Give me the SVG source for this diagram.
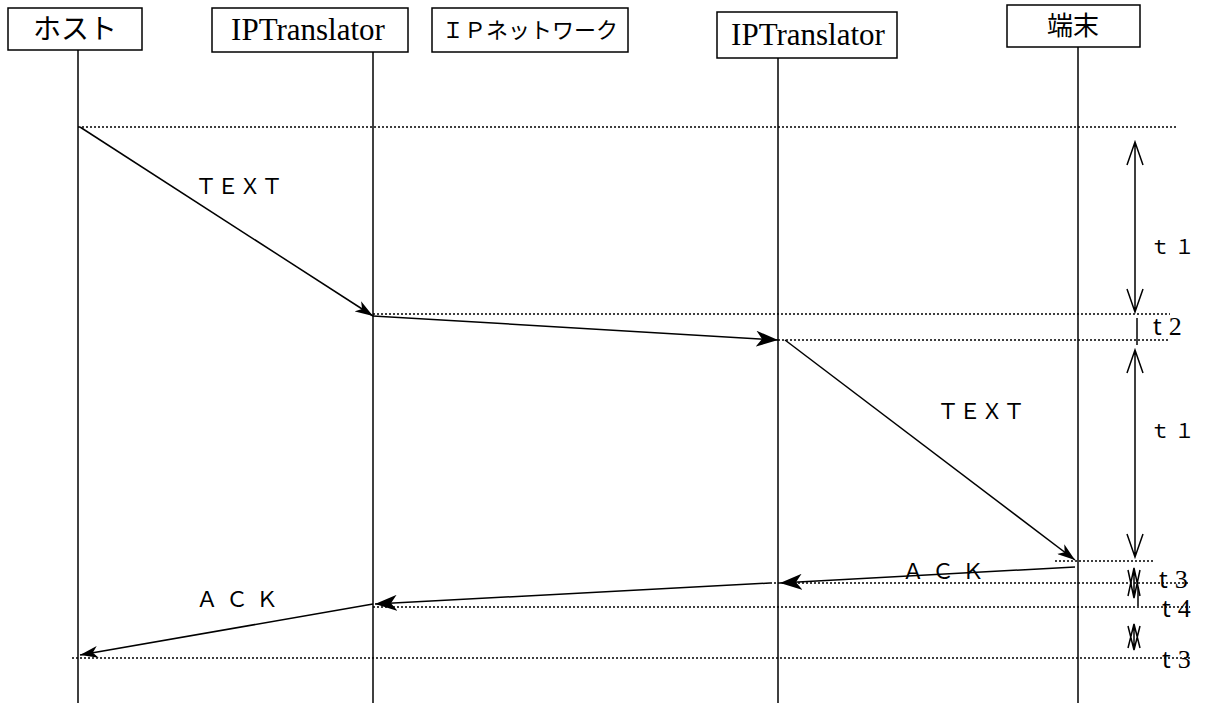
<svg xmlns="http://www.w3.org/2000/svg" width="1212" height="708" viewBox="0 0 1212 708">
<style>
.box{fill:#fff;stroke:#000;stroke-width:1.5}
.life{stroke:#000;stroke-width:1.5}
.dot{stroke:#000;stroke-width:1.3;stroke-dasharray:2 2;fill:none}
.msg{stroke:#000;stroke-width:1.5;fill:none}
.jp{font-family:"Noto Sans CJK JP","Noto Sans",sans-serif;fill:#000}
.se{font-family:"Liberation Serif",serif;fill:#000}
.tk{stroke:#000;stroke-width:1.5;fill:none}
.tl{font-size:24px;fill:#000}
.tt{font-family:"Noto Sans",sans-serif}
.td{font-family:"Liberation Serif",serif;font-size:26px}
</style>
<defs>
<marker id="ah" markerWidth="24" markerHeight="16" refX="22" refY="8" orient="auto" markerUnits="userSpaceOnUse">
<path d="M0,0 L22,8 L0,16 L6,8 Z" fill="#000"/>
</marker>
<marker id="ahs" markerWidth="20" markerHeight="12" refX="18" refY="6" orient="auto" markerUnits="userSpaceOnUse">
<path d="M0,0 L18,6 L0,12 L5,6 Z" fill="#000"/>
</marker>
</defs>
<rect width="1212" height="708" fill="#fff"/>
<g id="host"><rect class="box" x="8" y="8" width="134" height="42"/><text class="jp" x="75" y="39" font-size="28" text-anchor="middle">ホスト</text><line class="life" x1="78" y1="50" x2="78" y2="703"/></g>
<g id="ipt1"><rect class="box" x="212" y="8" width="196" height="44"/><text class="se" x="308" y="40" font-size="31" text-anchor="middle">IPTranslator</text><line class="life" x1="373" y1="52" x2="373" y2="703"/></g>
<g id="ipnet"><rect class="box" x="432" y="8" width="196" height="44"/><text class="jp" x="530" y="38" font-size="22" text-anchor="middle">ＩＰネットワーク</text></g>
<g id="ipt2"><rect class="box" x="717" y="12" width="180" height="46"/><text class="se" x="808" y="45" font-size="31" text-anchor="middle">IPTranslator</text><line class="life" x1="778" y1="58" x2="778" y2="703"/></g>
<g id="term"><rect class="box" x="1007" y="5" width="133" height="42"/><text class="jp" x="1073" y="35" font-size="26" text-anchor="middle">端末</text><line class="life" x1="1078" y1="47" x2="1078" y2="703"/></g>
<g id="guides">
<line class="dot" x1="78" y1="127" x2="1176" y2="127"/>
<line class="dot" x1="373" y1="314" x2="1170" y2="314"/>
<line class="dot" x1="778" y1="340" x2="1170" y2="340"/>
<line class="dot" x1="1055" y1="561" x2="1155" y2="561"/>
<line class="dot" x1="770" y1="583" x2="1190" y2="583"/>
<line class="dot" x1="373" y1="607" x2="1190" y2="607"/>
<line class="dot" x1="72" y1="658" x2="1190" y2="658"/>
</g>
<g id="connectors">
<line class="msg" x1="80" y1="127" x2="373" y2="316" marker-end="url(#ahs)"/>
<line class="msg" x1="373" y1="316" x2="778" y2="340" marker-end="url(#ah)"/>
<line class="msg" x1="785" y1="340" x2="1075" y2="560" marker-end="url(#ahs)"/>
<line class="msg" x1="1075" y1="567" x2="780" y2="583" marker-end="url(#ah)"/>
<line class="msg" x1="770" y1="583" x2="375" y2="604" marker-end="url(#ah)"/>
<line class="msg" x1="373" y1="604" x2="80" y2="655" marker-end="url(#ahs)"/>
</g>
<g id="labels">
<text class="jp" x="239" y="194" font-size="22" text-anchor="middle">ＴＥＸＴ</text>
<text class="jp" x="981" y="419" font-size="22" text-anchor="middle">ＴＥＸＴ</text>
<text class="jp" x="947" y="579" font-size="22" text-anchor="middle" letter-spacing="8">ＡＣＫ</text>
<text class="jp" x="241" y="607" font-size="22" text-anchor="middle" letter-spacing="8">ＡＣＫ</text>
</g>
<g id="timing">
<path class="tk" d="M1135,142 V312 M1127,165 L1135,142 L1143,165 M1127,289 L1135,312 L1143,289"/>
<path class="tk" d="M1137,318 V345"/>
<path class="tk" d="M1135,350 V557 M1127,373 L1135,350 L1143,373 M1127,534 L1135,557 L1143,534"/>
<path class="tk" d="M1134,568 V598 M1128,596 L1134,568 L1140,596 M1128,570 L1134,598 L1140,570"/>
<path class="tk" d="M1138,587 V606"/>
<path class="tk" d="M1134,624 V650 M1128,648 L1134,624 L1140,648 M1128,626 L1134,650 L1140,626"/>
<text class="jp" x="1150" y="254" font-size="20">ｔ １</text>
<text class="jp" x="1150" y="438" font-size="20">ｔ １</text>
<text class="tl" x="1153" y="335"><tspan class="tt">t</tspan><tspan class="td" dx="7">2</tspan></text>
<text class="tl" x="1159" y="588"><tspan class="tt">t</tspan><tspan class="td" dx="7">3</tspan></text>
<text class="tl" x="1162" y="617"><tspan class="tt">t</tspan><tspan class="td" dx="7">4</tspan></text>
<text class="tl" x="1162" y="668"><tspan class="tt">t</tspan><tspan class="td" dx="7">3</tspan></text>
</g>
</svg>
